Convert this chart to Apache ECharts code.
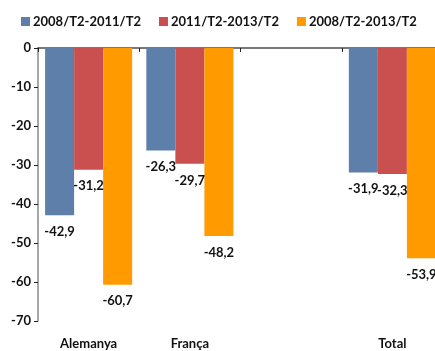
<!DOCTYPE html>
<html>
<head>
<meta charset="utf-8">
<script src="https://cdn.jsdelivr.net/npm/echarts@6/dist/echarts.min.js"></script>
<style>
  html, body { margin: 0; padding: 0; background: #fff; }
  /* the plot is a little wider than the visible frame, so the last bar is cut at the edge */
  #frame { width: 435px; height: 351px; overflow: hidden; }
  #chart { width: 443px; height: 351px; }
</style>
</head>
<body>
<div id="frame"><div id="chart"></div></div>
<script>
// Categories (the third slot is intentionally left empty as a spacer)
const categories = ['Alemanya', 'França', '', 'Total'];
const seriesNames = ['2008/T2-2011/T2', '2011/T2-2013/T2', '2008/T2-2013/T2'];
const period1 = [-42.9, -26.3, null, -31.9];
const period2 = [-31.2, -29.7, null, -32.3];
const period3 = [-60.7, -48.2, null, -53.9];
const yTicks = [0, -10, -20, -30, -40, -50, -60, -70];

const colors = ['#5d7fa9', '#c9504f', '#ff9a00'];
const FONT = 'Lato, "Open Sans", sans-serif';

const fmt = v => String(v).replace('.', ',');

function makeSeries(name, data, color) {
  return {
    name: name,
    type: 'bar',
    xAxisIndex: 0,
    data: data.map(v => v === null ? '-' : v),
    barGap: '0%',
    barCategoryGap: '14%',
    itemStyle: { color: color },
    label: {
      show: true,
      position: 'bottom',
      distance: 10,
      color: '#111',
      fontFamily: FONT,
      fontWeight: 'bold',
      fontSize: 13,
      formatter: p => fmt(p.value)
    }
  };
}

const chart = echarts.init(document.getElementById('chart'), null, { renderer: 'canvas' });
chart.setOption({
  animation: false,
  color: colors,
  textStyle: { fontFamily: FONT },
  legend: {
    left: 16,
    top: 10,
    itemWidth: 9,
    itemHeight: 9,
    itemGap: 18,
    icon: 'rect',
    textStyle: { fontFamily: FONT, fontWeight: 'bold', fontSize: 13, color: '#111', padding: [0, 0, 0, -2] },
    data: seriesNames
  },
  grid: { left: 38, right: 0, top: 48, bottom: 30, containLabel: false },
  xAxis: [
    {
      type: 'category',
      data: categories,
      axisLine: { onZero: true, lineStyle: { color: '#4d4d4d', width: 1.5 } },
      axisTick: { show: true, length: 4, lineStyle: { color: '#222' } },
      axisLabel: { show: false },
      splitLine: { show: false }
    },
    {
      type: 'category',
      data: categories,
      position: 'bottom',
      axisLine: { show: false },
      axisTick: { show: false },
      axisLabel: {
        show: true,
        margin: 16,
        color: '#111',
        fontFamily: FONT,
        fontWeight: 'bold',
        fontSize: 13
      }
    }
  ],
  yAxis: {
    type: 'value',
    min: -70,
    max: 0,
    interval: 10,
    axisLine: { show: true, lineStyle: { color: '#8a8a8a', width: 1.5 } },
    axisTick: { show: true, length: 4, lineStyle: { color: '#222' } },
    axisLabel: {
      margin: 7,
      color: '#111',
      fontFamily: FONT,
      fontWeight: 'bold',
      fontSize: 13,
      formatter: v => yTicks.includes(v) ? String(v) : ''
    },
    splitLine: { show: false }
  },
  series: [
    makeSeries(seriesNames[0], period1, colors[0]),
    makeSeries(seriesNames[1], period2, colors[1]),
    makeSeries(seriesNames[2], period3, colors[2])
  ]
});
</script>
</body>
</html>
